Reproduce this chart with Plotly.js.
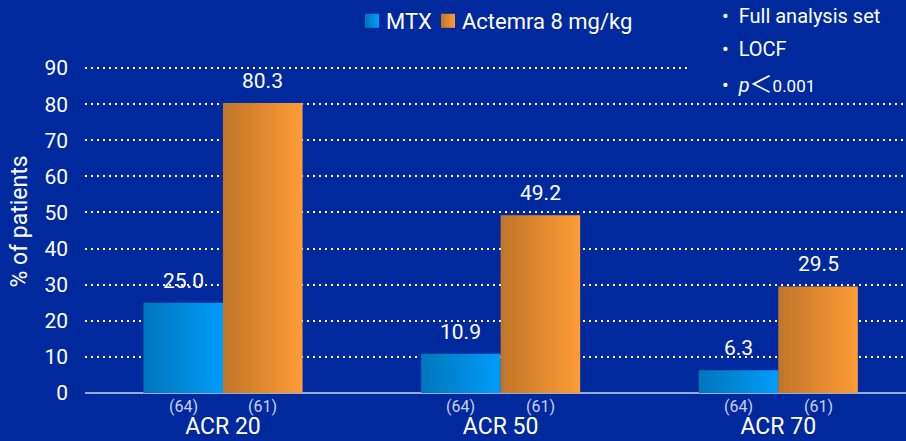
<!DOCTYPE html>
<html>
<head>
<meta charset="utf-8">
<script src="https://cdn.plot.ly/plotly-3.0.1.min.js"></script>
<style>html,body{margin:0;padding:0;background:#00299E;}#chart{width:906px;height:441px;}</style>
</head>
<body>
<div id="chart"></div>
<script>
const categories = ['ACR 20', 'ACR 50', 'ACR 70'];
const mtxValues = [25.0, 10.9, 6.3];
const actemraValues = [80.3, 49.2, 29.5];
const mtxN = [64, 64, 64];
const actemraN = [61, 61, 61];
const seriesNames = ['MTX', 'Actemra 8 mg/kg'];
const notes = ['•  Full analysis set', '•  LOCF',
  '•  <i>p</i><span style="font-family:\'Noto Sans CJK JP\';font-size:23px">＜</span><span style="font-size:17px">0.001</span>'];

const BG = '#00299E';
const FONT = 'Roboto, "Open Sans", sans-serif';
const bargap = 0.427;
const halfOffset = (1 - bargap) / 4;
const xs = categories.map((c, i) => i);

const traces = [
  {type: 'bar', name: seriesNames[0], x: xs, y: mtxValues, legend: 'legend',
   marker: {color: '#0096F0'}},
  {type: 'bar', name: seriesNames[1], x: xs, y: actemraValues, legend: 'legend2',
   marker: {color: '#F59A35'}}
];

const annotations = [];
const series = [[mtxValues, mtxN, -1], [actemraValues, actemraN, 1]];
series.forEach(([vals, ns, sgn]) => {
  vals.forEach((v, i) => {
    annotations.push({x: i + sgn * halfOffset, xref: 'x', y: v, yref: 'y', text: v.toFixed(1),
      showarrow: false, yanchor: 'middle', yshift: 22, font: {size: 21, color: '#ffffff', family: FONT}});
    annotations.push({x: i + sgn * halfOffset, xref: 'x', y: -0.0407, yref: 'paper', text: '(' + ns[i] + ')',
      showarrow: false, yanchor: 'middle', font: {size: 16, color: '#C8D2EE', family: FONT}});
  });
});
const noteY = [14.5, 47.5, 81];
notes.forEach((t, k) => {
  annotations.push({xref: 'paper', x: (720 - 85) / 821, xanchor: 'left', yref: 'paper',
    y: (393 - noteY[k]) / 344, yanchor: 'middle', text: t, showarrow: false,
    font: {size: 20, color: '#ffffff', family: FONT}});
});

const legendBase = {orientation: 'h', xanchor: 'left', y: (393 - 20) / 344, yanchor: 'middle',
  font: {size: 22, color: '#ffffff', family: FONT}, bgcolor: 'rgba(0,0,0,0)', borderwidth: 0, itemwidth: 30};

const layout = {
  width: 906, height: 441,
  paper_bgcolor: BG, plot_bgcolor: BG,
  margin: {l: 85, r: 0, t: 49, b: 48},
  font: {family: FONT, color: '#ffffff'},
  barmode: 'group', bargap: bargap, bargroupgap: 0,
  showlegend: true,
  legend: Object.assign({}, legendBase, {x: (346 - 85) / 821}),
  legend2: Object.assign({}, legendBase, {x: (422 - 85) / 821}),
  xaxis: {type: 'linear', range: [-0.497, 2.46], tickvals: xs, ticktext: categories,
    tickfont: {size: 23, color: '#ffffff', family: FONT}, ticks: '', ticklabelstandoff: 17,
    showgrid: false, zeroline: false, showline: false, fixedrange: true},
  yaxis: {range: [0, 95], tickvals: [0,10,20,30,40,50,60,70,80,90], ticks: '',
    tickfont: {size: 21, color: '#ffffff', family: FONT}, ticklabelstandoff: 16,
    showgrid: true, gridcolor: '#ffffff', gridwidth: 2, griddash: '2px,4px',
    zeroline: true, zerolinecolor: '#9AAAD6', zerolinewidth: 2, showline: false,
    title: {text: '% of patients', font: {size: 23, color: '#ffffff', family: FONT}, standoff: 10}},
  shapes: [
    {type: 'rect', xref: 'paper', yref: 'paper', x0: (690 - 85) / 821, x1: 1.0, y0: (393 - 92) / 344, y1: 1.2,
      fillcolor: BG, line: {width: 0}, layer: 'above'}
  ],
  annotations: annotations
};

Plotly.newPlot('chart', traces, layout, {displayModeBar: false, staticPlot: true}).then(gd => {
  const svg = gd.querySelector('.main-svg');
  let defs = svg.querySelector('defs');
  const ns = 'http://www.w3.org/2000/svg';
  function grad(id, c1, c2) {
    const g = document.createElementNS(ns, 'linearGradient');
    g.setAttribute('id', id); g.setAttribute('x1', '0'); g.setAttribute('x2', '1');
    g.setAttribute('y1', '0'); g.setAttribute('y2', '0');
    [[0, c1], [1, c2]].forEach(([o, c]) => {
      const s = document.createElementNS(ns, 'stop');
      s.setAttribute('offset', o); s.setAttribute('stop-color', c);
      g.appendChild(s);
    });
    defs.appendChild(g);
  }
  grad('gMTX', '#0075BA', '#009CFA');
  grad('gACT', '#C0752A', '#FF9C35');
  const ids = ['gMTX', 'gACT'];
  gd.querySelectorAll('.barlayer .trace').forEach((tr, k) => {
    tr.querySelectorAll('path').forEach(p => { p.style.fill = 'url(#' + ids[k] + ')'; });
  });
  gd.querySelectorAll('.legendpoints path').forEach((p, k) => {
    const id = ids[Math.min(k, 1)];
    p.style.fill = 'url(#' + id + ')'; p.style.stroke = 'none';
    p.setAttribute('transform', 'translate(26,0) scale(1.167)');
  });
});
</script>
</body>
</html>
